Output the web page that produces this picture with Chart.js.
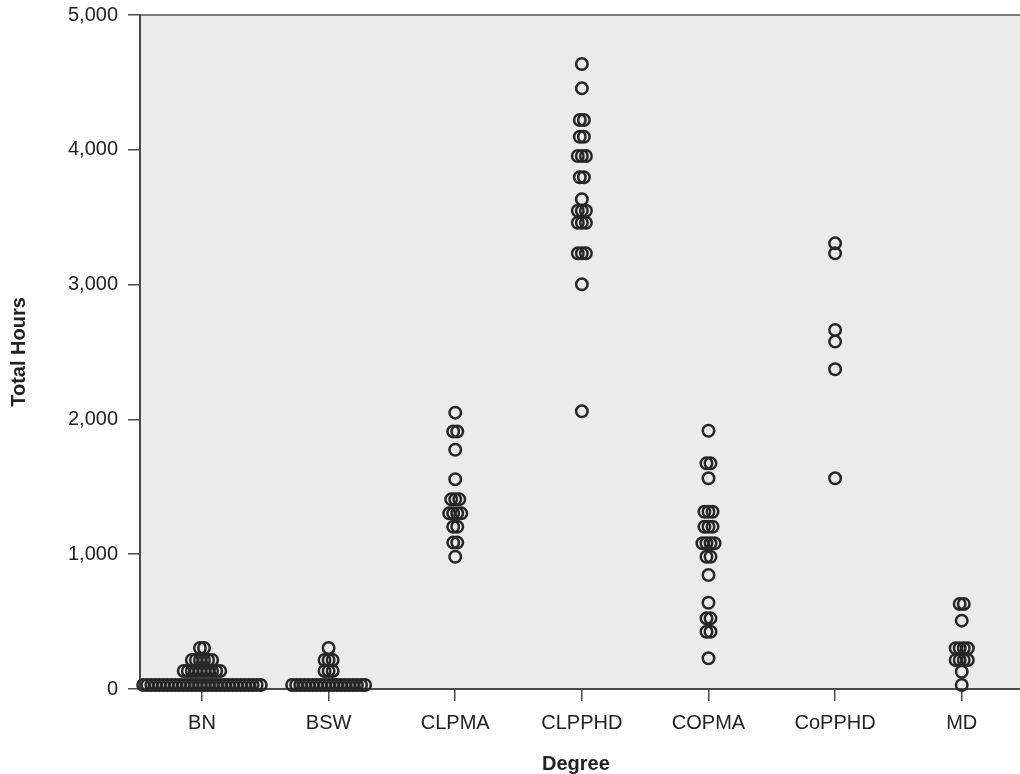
<!DOCTYPE html>
<html>
<head>
<meta charset="utf-8">
<script src="https://cdn.jsdelivr.net/npm/chart.js@4.4.1/dist/chart.umd.min.js"></script>
<style>
  html, body { margin: 0; padding: 0; background: #fff; }
  #wrap { width: 1020px; height: 774px; }
</style>
</head>
<body>
<div id="wrap"><canvas id="dotChart" width="1020" height="774"></canvas></div>
<script>
// categories on the x axis
const categories = ['BN', 'BSW', 'CLPMA', 'CLPPHD', 'COPMA', 'CoPPHD', 'MD'];

// total hours per degree: distinct values and how many people share each one
const bnHours = [30, 134, 215, 304];
const bnCounts = [30, 10, 6, 2];
const bswHours = [30, 134, 215, 304];
const bswCounts = [19, 3, 3, 1];
const clpmaHours = [2050, 1910, 1775, 1556, 1407, 1303, 1204, 1086, 981];
const clpmaCounts = [1, 2, 1, 1, 3, 4, 2, 2, 1];
const clpphdHours = [4636, 4456, 4221, 4097, 3954, 3796, 3633, 3548, 3459, 3232, 3002, 2060];
const clpphdCounts = [1, 1, 2, 2, 3, 2, 1, 3, 3, 3, 1, 1];
const copmaHours = [1916, 1674, 1563, 1315, 1204, 1081, 981, 846, 640, 524, 425, 228];
const copmaCounts = [1, 2, 1, 3, 3, 4, 2, 1, 1, 2, 2, 1];
const copphdHours = [3306, 3232, 2663, 2577, 2372, 1563];
const copphdCounts = [1, 1, 1, 1, 1, 1];
const mdHours = [631, 507, 302, 215, 128, 30];
const mdCounts = [2, 1, 4, 4, 1, 1];

const yTicks = [0, 1000, 2000, 3000, 4000, 5000];

const groups = [
    [bnHours, bnCounts],
    [bswHours, bswCounts],
    [clpmaHours, clpmaCounts],
    [clpphdHours, clpphdCounts],
    [copmaHours, copmaCounts],
    [copphdHours, copphdCounts],
    [mdHours, mdCounts]
];

// stacked dots sit side by side around the category centre
const dotStep = 0.032;
const points = [];
groups.forEach(function(g, i) {
    g[0].forEach(function(v, j) {
        const n = g[1][j];
        for (let k = 0; k < n; k++) {
            points.push({ x: i + (k - (n - 1) / 2) * dotStep, y: v });
        }
    });
});

const axisColor = '#4a4a4a';

// grey data area, top frame line, and the axis running on to the page edge
const plotBackground = {
    id: 'plotBackground',
    beforeDraw(chart) {
        const a = chart.chartArea;
        const c = chart.ctx;
        c.save();
        c.fillStyle = '#ebebeb';
        c.fillRect(a.left, a.top, chart.width - a.left, a.bottom - a.top);
        c.strokeStyle = '#555';
        c.lineWidth = 1.5;
        c.beginPath();
        c.moveTo(a.left, a.top);
        c.lineTo(chart.width, a.top);
        c.stroke();
        c.restore();
    },
    afterDraw(chart) {
        const a = chart.chartArea;
        const c = chart.ctx;
        c.save();
        c.strokeStyle = axisColor;
        c.lineWidth = 2;
        c.beginPath();
        c.moveTo(a.right - 1, Math.round(a.bottom));
        c.lineTo(chart.width, Math.round(a.bottom));
        c.stroke();
        c.restore();
    }
};

const tickFont = { family: '"Liberation Sans", Arial, sans-serif', size: 20 };
const titleFont = { family: '"Liberation Sans", Arial, sans-serif', size: 20, weight: 'bold', lineHeight: 1.0 };

const ctx = document.getElementById('dotChart').getContext('2d');
const dotChart = new Chart(ctx, {
    type: 'scatter',
    data: {
        datasets: [{
            label: 'Total Hours',
            data: points,
            pointRadius: 5.75,
            pointHoverRadius: 5.75,
            borderWidth: 2.5,
            borderColor: '#262626',
            backgroundColor: 'rgba(0,0,0,0)',
            clip: false
        }]
    },
    options: {
        responsive: false,
        animation: false,
        layout: { padding: { top: 15, right: 0, left: 0, bottom: 0 } },
        plugins: {
            legend: { display: false },
            tooltip: { enabled: false }
        },
        scales: {
            x: {
                type: 'linear',
                min: -0.4895,
                max: 6.395,
                afterBuildTicks: function(scale) {
                    scale.ticks = categories.map(function(c, i) { return { value: i }; });
                },
                afterFit: function(scale) { scale.height = 85; },
                ticks: {
                    autoSkip: false,
                    maxRotation: 0,
                    padding: 10,
                    color: '#222',
                    font: tickFont,
                    callback: function(v) { return categories[v]; }
                },
                grid: {
                    drawOnChartArea: false,
                    drawTicks: true,
                    tickLength: 12,
                    color: axisColor,
                    lineWidth: 1.5
                },
                border: { display: true, color: axisColor, width: 2 },
                title: {
                    display: true,
                    text: 'Degree',
                    color: '#222',
                    font: titleFont,
                    padding: { top: 0, bottom: 0 }
                }
            },
            y: {
                min: 0,
                max: 5000,
                afterBuildTicks: function(scale) {
                    scale.ticks = yTicks.map(function(v) { return { value: v }; });
                },
                afterFit: function(scale) {
                    scale.width = 140;
                    scale.paddingTop = 0;
                    scale.paddingBottom = 0;
                },
                ticks: {
                    padding: 10,
                    color: '#222',
                    font: tickFont,
                    callback: function(v) { return v.toLocaleString('en-US'); }
                },
                grid: {
                    drawOnChartArea: false,
                    drawTicks: true,
                    tickLength: 12,
                    color: axisColor,
                    lineWidth: 1.5
                },
                border: { display: true, color: axisColor, width: 2 },
                title: {
                    display: true,
                    text: 'Total Hours',
                    color: '#222',
                    font: titleFont,
                    padding: { top: 9, bottom: 0 }
                }
            }
        }
    },
    plugins: [plotBackground]
});
</script>
</body>
</html>
